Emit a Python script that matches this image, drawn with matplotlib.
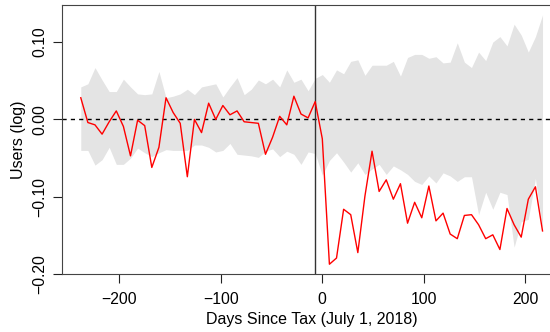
import numpy as np
import matplotlib
matplotlib.use("Agg")
import matplotlib.pyplot as plt

plt.rcParams['font.family'] = ['Liberation Sans', 'DejaVu Sans']

# weekly bins, days relative to July 1, 2018
days = np.arange(-238, 218, 7)
tax_line = -7

# point estimates
est = [0.028, -0.004, -0.007, -0.019, -0.003, 0.011, -0.009, -0.047, -0.001, -0.008,
       -0.062, -0.036, 0.028, 0.009, -0.005, -0.074, 0.000, -0.017, 0.021, 0.000,
       0.018, 0.006, 0.011, -0.003, -0.004, -0.005, -0.045, -0.023, 0.004, -0.007,
       0.030, 0.007, 0.002, 0.023, -0.025, -0.187, -0.179, -0.116, -0.123, -0.172,
       -0.099, -0.041, -0.093, -0.078, -0.103, -0.083, -0.134, -0.107, -0.127, -0.086,
       -0.131, -0.121, -0.148, -0.154, -0.124, -0.123, -0.136, -0.154, -0.149, -0.168,
       -0.115, -0.136, -0.152, -0.103, -0.087, -0.144]

# confidence band
upper = [0.042, 0.046, 0.067, 0.051, 0.036, 0.036, 0.052, 0.042, 0.033, 0.032,
         0.033, 0.062, 0.028, 0.030, 0.033, 0.039, 0.032, 0.042, 0.044, 0.046,
         0.029, 0.042, 0.054, 0.032, 0.039, 0.051, 0.046, 0.052, 0.042, 0.064,
         0.048, 0.052, 0.037, 0.053, 0.058, 0.048, 0.064, 0.059, 0.075, 0.077,
         0.057, 0.070, 0.070, 0.070, 0.075, 0.056, 0.080, 0.084, 0.084, 0.079,
         0.081, 0.073, 0.074, 0.099, 0.074, 0.067, 0.087, 0.076, 0.100, 0.107,
         0.095, 0.123, 0.109, 0.087, 0.107, 0.135]
lower = [-0.040, -0.040, -0.059, -0.052, -0.036, -0.058, -0.058, -0.050, -0.037, -0.043,
         -0.048, -0.043, -0.039, -0.040, -0.040, -0.040, -0.033, -0.033, -0.036, -0.042,
         -0.040, -0.031, -0.045, -0.046, -0.047, -0.049, -0.041, -0.038, -0.048, -0.041,
         -0.045, -0.058, -0.042, -0.044, -0.072, -0.053, -0.043, -0.055, -0.068, -0.056,
         -0.071, -0.064, -0.058, -0.071, -0.060, -0.065, -0.071, -0.080, -0.084, -0.073,
         -0.082, -0.069, -0.073, -0.080, -0.074, -0.074, -0.123, -0.094, -0.116, -0.094,
         -0.097, -0.165, -0.132, -0.129, -0.076, -0.143]

xticks = [-200, -100, 0, 100, 200]
yticks = [-0.20, -0.10, 0.00, 0.10]
ytick_labels = ["\u22120.20", "\u22120.10", "0.00", "0.10"]
xtick_labels = ["\u2212200", "\u2212100", "0", "100", "200"]

W, H = 550, 332
fig = plt.figure(figsize=(W / 100, H / 100), dpi=100)
# plot region runs past the right edge of the figure
ax = fig.add_axes([62.3 / W, (H - 274.3) / H, (561 - 62.3) / W, (274.3 - 5) / H])

ax.fill_between(days, lower, upper, color="#e4e4e4", linewidth=0)
ax.axhline(0, color="black", lw=1.0, dashes=(3, 3))
ax.axvline(tax_line, color="#333333", lw=1.0)
ax.plot(days, est, color="red", lw=1.0)

ax.set_xlim(-256.2, 235.2)
ax.set_ylim(-0.1997, 0.1478)

ax.set_xticks(xticks)
ax.set_xticklabels(xtick_labels)
ax.set_yticks(yticks)
ax.set_yticklabels(ytick_labels, rotation=90, va="center")
ax.tick_params(direction="out", length=6.5, width=0.8, colors="#222222",
               labelsize=11.3, labelcolor="black")
ax.tick_params(axis="x", pad=6)
ax.tick_params(axis="y", pad=4.5)
for s in ax.spines.values():
    s.set_color("#444444")
    s.set_linewidth(0.8)

ax.set_xlabel("Days Since Tax (July 1, 2018)", fontsize=11.5, labelpad=4)
ax.set_ylabel("Users (log)", fontsize=11.5, labelpad=4)

fig.savefig("out.png", dpi=100)
